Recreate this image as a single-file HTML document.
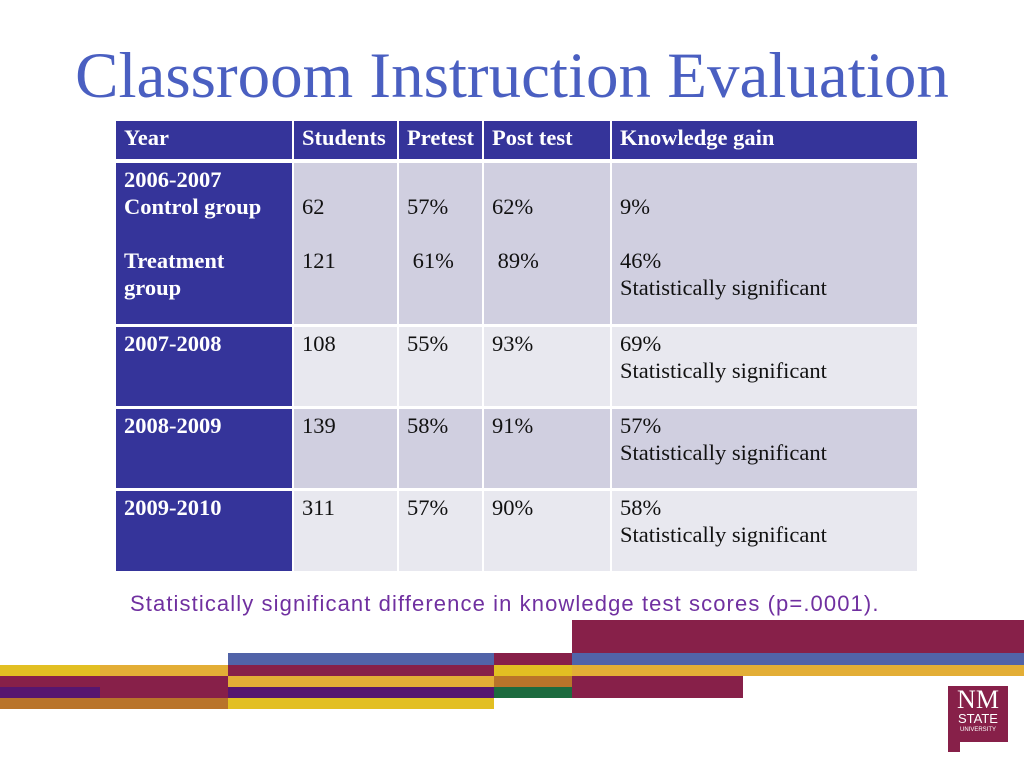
<!DOCTYPE html>
<html><head><meta charset="utf-8"><style>
body{margin:0;width:1024px;height:768px;background:#fff;position:relative;overflow:hidden;font-family:"Liberation Serif",serif}
.a{position:absolute}
.c{position:absolute;box-sizing:border-box;padding:3px 0 0 8px;font-size:22.5px;line-height:27px;color:#111;white-space:nowrap}
.h{background:#35349a;color:#fff;font-weight:bold}
.d{background:#d0cfe0}.l{background:#e8e8ef}
.s{position:absolute}
</style></head><body>
<div class="a" style="left:0;width:1024px;top:38px;text-align:center;font-size:65px;color:#4a5fc1;line-height:76px">Classroom Instruction Evaluation</div>
<div>
<div class="c h" style="left:116px;top:121px;width:176px;height:38px">Year</div>
<div class="c h" style="left:294px;top:121px;width:103px;height:38px">Students</div>
<div class="c h" style="left:399px;top:121px;width:83px;height:38px">Pretest</div>
<div class="c h" style="left:484px;top:121px;width:126px;height:38px">Post test</div>
<div class="c h" style="left:612px;top:121px;width:305px;height:38px">Knowledge gain</div>

<div class="c h" style="left:116px;top:163px;width:176px;height:161px">2006-2007<br>Control group<br><br>Treatment<br>group</div>
<div class="c d" style="left:294px;top:163px;width:103px;height:161px"><br>62<br><br>121</div>
<div class="c d" style="left:399px;top:163px;width:83px;height:161px"><br>57%<br><br>&nbsp;61%</div>
<div class="c d" style="left:484px;top:163px;width:126px;height:161px"><br>62%<br><br>&nbsp;89%</div>
<div class="c d" style="left:612px;top:163px;width:305px;height:161px"><br>9%<br><br>46%<br>Statistically significant</div>

<div class="c h" style="left:116px;top:327px;width:176px;height:79px">2007-2008</div>
<div class="c l" style="left:294px;top:327px;width:103px;height:79px">108</div>
<div class="c l" style="left:399px;top:327px;width:83px;height:79px">55%</div>
<div class="c l" style="left:484px;top:327px;width:126px;height:79px">93%</div>
<div class="c l" style="left:612px;top:327px;width:305px;height:79px">69%<br>Statistically significant</div>

<div class="c h" style="left:116px;top:409px;width:176px;height:79px">2008-2009</div>
<div class="c d" style="left:294px;top:409px;width:103px;height:79px">139</div>
<div class="c d" style="left:399px;top:409px;width:83px;height:79px">58%</div>
<div class="c d" style="left:484px;top:409px;width:126px;height:79px">91%</div>
<div class="c d" style="left:612px;top:409px;width:305px;height:79px">57%<br>Statistically significant</div>

<div class="c h" style="left:116px;top:491px;width:176px;height:80px">2009-2010</div>
<div class="c l" style="left:294px;top:491px;width:103px;height:80px">311</div>
<div class="c l" style="left:399px;top:491px;width:83px;height:80px">57%</div>
<div class="c l" style="left:484px;top:491px;width:126px;height:80px">90%</div>
<div class="c l" style="left:612px;top:491px;width:305px;height:80px">58%<br>Statistically significant</div>
</div>
<div class="a" style="left:130px;top:591px;font-family:'Liberation Sans',sans-serif;font-size:22px;letter-spacing:1.1px;color:#7030a0;white-space:nowrap">Statistically significant difference in knowledge test scores (p=.0001).</div>

<div>
<div class="s" style="left:572px;top:620px;width:452px;height:33px;background:#872049"></div>
<div class="s" style="left:228px;top:653px;width:266px;height:12px;background:#5163a8"></div>
<div class="s" style="left:494px;top:653px;width:78px;height:12px;background:#872049"></div>
<div class="s" style="left:572px;top:653px;width:452px;height:12px;background:#5163a8"></div>
<div class="s" style="left:0;top:665px;width:100px;height:11px;background:#e2bf22"></div>
<div class="s" style="left:100px;top:665px;width:128px;height:11px;background:#e3ae36"></div>
<div class="s" style="left:228px;top:665px;width:266px;height:11px;background:#872049"></div>
<div class="s" style="left:494px;top:665px;width:78px;height:11px;background:#e2bf22"></div>
<div class="s" style="left:572px;top:665px;width:452px;height:11px;background:#e3ae36"></div>
<div class="s" style="left:0;top:676px;width:228px;height:11px;background:#872049"></div>
<div class="s" style="left:228px;top:676px;width:266px;height:11px;background:#e3ae36"></div>
<div class="s" style="left:494px;top:676px;width:78px;height:11px;background:#b9742a"></div>
<div class="s" style="left:572px;top:676px;width:171px;height:22px;background:#872049"></div>
<div class="s" style="left:0;top:687px;width:100px;height:11px;background:#57166f"></div>
<div class="s" style="left:100px;top:687px;width:128px;height:11px;background:#872049"></div>
<div class="s" style="left:228px;top:687px;width:266px;height:11px;background:#57166f"></div>
<div class="s" style="left:494px;top:687px;width:78px;height:11px;background:#1d6b3f"></div>
<div class="s" style="left:0;top:698px;width:228px;height:11px;background:#b9742a"></div>
<div class="s" style="left:228px;top:698px;width:266px;height:11px;background:#e2bf22"></div>
</div>
<div class="a" style="left:948px;top:686px;width:60px;height:56px;background:#872049;color:#fff;text-align:center;font-family:'Liberation Sans Narrow','Liberation Sans',sans-serif">
<div style="font-family:'Liberation Serif',serif;font-size:26px;line-height:24px;margin-top:2px">NM</div>
<div style="font-size:13px;line-height:14px">STATE</div>
<div style="font-size:6px;line-height:8px">UNIVERSITY</div>
</div>
<div class="a" style="left:948px;top:742px;width:12px;height:10px;background:#872049"></div>
</body></html>
